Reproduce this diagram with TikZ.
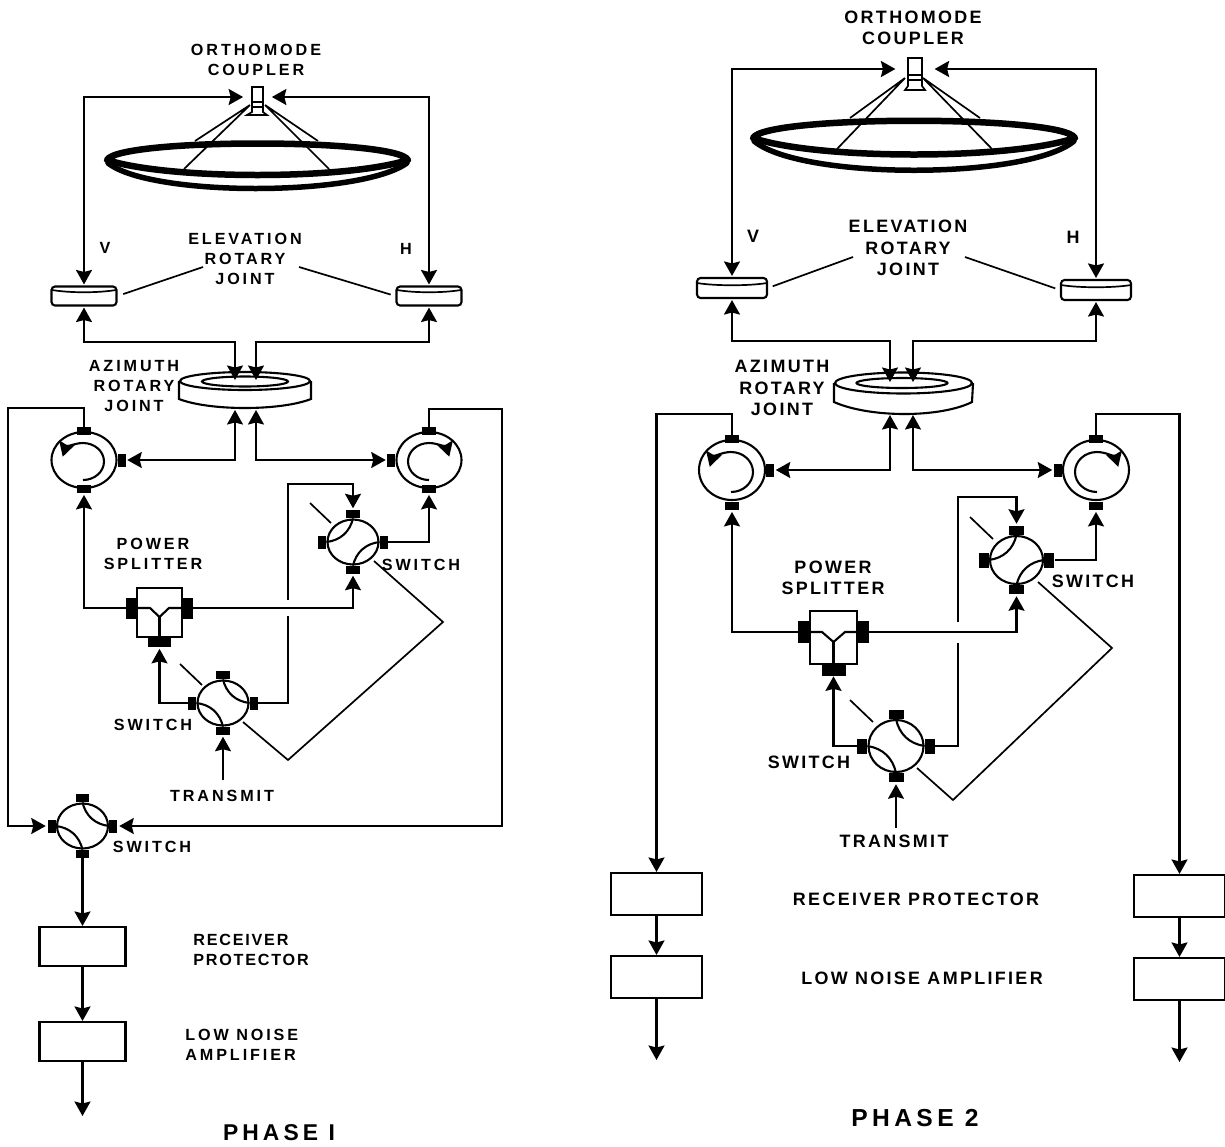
\documentclass[tikz,border=0pt]{standalone}
\usepackage{fontspec}
\usepackage{tikz}
\usetikzlibrary{arrows.meta,shapes,calc}
\newfontfamily\capsa[LetterSpace=18]{Liberation Sans}
\newfontfamily\capsb[LetterSpace=13]{Liberation Sans}
\newfontfamily\capsc[LetterSpace=11]{Liberation Sans}
\tikzstyle{labela}=[font=\capsa\fontsize{9.2}{11.4}\selectfont\bfseries, align=center, inner sep=0pt]
\tikzstyle{labelb}=[font=\capsb\fontsize{10.2}{12.2}\selectfont\bfseries, align=center, inner sep=0pt]
\tikzstyle{labelc}=[font=\capsc\fontsize{9.2}{11.4}\selectfont\bfseries, align=left, anchor=west, inner sep=0pt]
\tikzstyle{phaselabel}=[font=\capsa\fontsize{13}{15}\selectfont\bfseries, inner sep=0pt]
\tikzstyle{sigline}=[line width=.042cm]
\tikzstyle{sigarrow}=[sigline, ->, >={Stealth[length=.29cm,width=.32cm,inset=.04cm]}, shorten >=.03cm]
\tikzstyle{bothway}=[sigarrow, <->, shorten <=.02cm]
\tikzstyle{thinline}=[line width=.034cm]
\tikzstyle{rimline}=[line width=.13cm, line join=round]
\tikzstyle{bowlline}=[line width=.11cm, line cap=round]
\tikzstyle{horn}=[rectangle, draw, line width=.034cm, inner sep=0pt, minimum width=.22cm, minimum height=.4cm]
\tikzstyle{elevjoint}=[rectangle, draw, sigline, fill=white, rounded corners=2pt, inner sep=0pt, minimum width=1.3cm, minimum height=.38cm]
\tikzstyle{circulator}=[ellipse, draw, sigline, fill=white, inner sep=0pt, minimum width=1.3cm, minimum height=1.12cm]
\tikzstyle{switchbox}=[ellipse, draw, sigline, fill=white, inner sep=0pt, minimum width=1.02cm, minimum height=.9cm]
\tikzstyle{portwide}=[rectangle, fill=black, inner sep=0pt, minimum width=.28cm, minimum height=.16cm]
\tikzstyle{porttall}=[rectangle, fill=black, inner sep=0pt, minimum width=.16cm, minimum height=.26cm]
\tikzstyle{portwideb}=[portwide, minimum width=.3cm, minimum height=.18cm]
\tikzstyle{porttallb}=[porttall, minimum width=.2cm, minimum height=.3cm]
\tikzstyle{splitter}=[rectangle, draw, sigline, inner sep=0pt, minimum width=.9cm, minimum height=.98cm]
\tikzstyle{splitside}=[rectangle, fill=black, inner sep=0pt, minimum width=.22cm, minimum height=.42cm]
\tikzstyle{splitbase}=[rectangle, fill=black, inner sep=0pt, minimum width=.46cm, minimum height=.2cm]
\tikzstyle{rxbox}=[rectangle, draw, sigline, inner sep=0pt, minimum width=1.72cm, minimum height=.78cm]
\begin{document}
\begin{tikzpicture}[x=.02cm, y=-.02cm]
    \useasboundingbox (0,0) rectangle (1225,1147);

    % Phase 1: antenna
    \node[horn] (horna) at (257.5,97) {};
    \draw[thinline] (252,102) -- (263,102) (252,107) -- (252,112) -- (247,115) -- (267,115) -- (263,112) -- (263,107);
    \draw[thinline] (250,105) -- (195,141) (250,105) -- (184,169) (265,105) -- (318,141) (265,105) -- (329,169);
    \draw[rimline] (107,160) .. controls (118,138) and (397,138) .. (408,160) .. controls (345,180) and (170,180) .. cycle;
    \draw[bowlline] (108,163) .. controls (150,197) and (360,197) .. (407,163);

    \node[labela] (orthoa) at (256,59.5) {ORTHOMODE\\COUPLER};
    \node[labela] (elevlaba) at (245,259) {ELEVATION\\ROTARY\\JOINT};
    \node[labela] (azlaba) at (134,386) {AZIMUTH\\ROTARY\\JOINT};
    \node[labela] (vlaba) at (105,248) {V};
    \node[labela] (hlaba) at (406,249) {H};

    % Phase 1: rotary joints
    \node[elevjoint] (evVa) at (84,296) {};
    \node[elevjoint] (evHa) at (429,296) {};
    \draw[thinline] (52,290) .. controls (70,293) and (98,293) .. (116,290);
    \draw[thinline] (397,290) .. controls (415,293) and (443,293) .. (461,290);
    \coordinate (evlnVa) at (203,267);
    \coordinate (evlnHa) at (299,267);
    \draw[thinline, shorten <=.12cm] (evVa.east) -- (evlnVa);
    \draw[thinline, shorten <=.1cm] (evHa.west) -- (evlnHa);

    \node[ellipse, draw, sigline, fill=white, inner sep=0pt, minimum width=2.6cm, minimum height=.36cm] (aza) at (245,381) {};
    \node[ellipse, draw, sigline, inner sep=0pt, minimum width=1.72cm, minimum height=.2cm] (azina) at (245,381.5) {};
    \draw[sigline] (aza.west) -- ++(0,18) .. controls (210,411) and (280,411) .. (311,399) -- (aza.east);

    \draw[bothway, shorten >=.16cm] (evVa.north) |- (horna.west);
    \draw[bothway, shorten >=.16cm] (evHa.north) |- (horna.east);
    \coordinate (azVa) at (235,342);
    \coordinate (azHa) at (256,342);
    \coordinate (azVatop) at (235,380);
    \coordinate (azHatop) at (256,380);
    \coordinate (azVabot) at (235,410);
    \coordinate (azHabot) at (256,410);
    \draw[bothway, shorten >=0pt] (evVa.south) |- (azVa) -- (azVatop);
    \draw[bothway, shorten >=0pt] (evHa.south) |- (azHa) -- (azHatop);

    % Phase 1: circulators
    \node[circulator] (circVa) at (84,460) {};
    \node[circulator] (circHa) at (429,460) {};
    \node[portwide, anchor=center] (circVaN) at (circVa.north) {};
    \node[portwide, anchor=center] (circVaS) at (circVa.south) {};
    \node[porttall, anchor=west] (circVaE) at (circVa.east) {};
    \node[portwide, anchor=center] (circHaN) at (circHa.north) {};
    \node[portwide, anchor=center] (circHaS) at (circHa.south) {};
    \node[porttall, anchor=east] (circHaW) at (circHa.west) {};
    \draw[sigarrow, shorten >=0pt] (83,480) arc[start angle=-90, end angle=165, x radius=.42cm, y radius=.37cm];
    \draw[sigarrow, shorten >=0pt] (429,480) arc[start angle=-90, end angle=-345, x radius=.42cm, y radius=.37cm];
    \draw[bothway, shorten >=0pt] (circVaE.east) -| (azVabot);
    \draw[bothway, shorten >=0pt] (circHaW.west) -| (azHabot);

    % Phase 1: power splitter and switches
    \node[labela] (powerlaba) at (153,554) {POWER\\SPLITTER};
    \node[splitter] (splita) at (159.5,612.5) {};
    \node[splitside] (splitaW) at (131.5,608) {};
    \node[splitside] (splitaE) at (187.5,608) {};
    \node[splitbase] (splitaS) at (159.5,642) {};
    \draw[sigline] (splitaW.east) -- (150,608) -- (159.5,617) -- (169,608) -- (splitaE.west);
    \draw[sigline] (159.5,617) -- (splita.south);

    \node[switchbox] (swra) at (353,542) {};
    \node[portwide, anchor=south] (swraN) at (swra.north) {};
    \node[portwide, anchor=north] (swraS) at (swra.south) {};
    \node[porttall, anchor=east] (swraW) at (swra.west) {};
    \node[porttall, anchor=west] (swraE) at (swra.east) {};
    \draw[sigline] (swra.north) to[bend left=35] (swra.west);
    \draw[sigline] (swra.east) to[bend right=35] (swra.south);

    \node[switchbox] (swta) at (223,703) {};
    \node[portwide, anchor=south] (swtaN) at (swta.north) {};
    \node[portwide, anchor=north] (swtaS) at (swta.south) {};
    \node[porttall, anchor=east] (swtaW) at (swta.west) {};
    \node[porttall, anchor=west] (swtaE) at (swta.east) {};
    \draw[sigline] (swta.north) to[bend right=35] (swta.east);
    \draw[sigline] (swta.west) to[bend left=35] (swta.south);

    \node[switchbox] (swoa) at (82.5,826) {};
    \node[portwide, anchor=south] (swoaN) at (swoa.north) {};
    \node[portwide, anchor=north] (swoaS) at (swoa.south) {};
    \node[porttall, anchor=east] (swoaW) at (swoa.west) {};
    \node[porttall, anchor=west] (swoaE) at (swoa.east) {};
    \draw[sigline] (swoa.north) to[bend right=35] (swoa.east);
    \draw[sigline] (swoa.west) to[bend left=35] (swoa.south);

    \node[labela] (swlabra) at (421,565) {SWITCH};
    \node[labela] (swlabta) at (153,725) {SWITCH};
    \node[labela] (swlaboa) at (152,847) {SWITCH};
    \node[labela] (txlaba) at (222,796) {TRANSMIT};

    \coordinate (txa) at (223,780);
    \coordinate (gaplowa) at (288,616);
    \coordinate (gapupa) at (288,600);
    \coordinate (swrtopa) at (353,484);
    \coordinate (cornerVa) at (8,408);
    \coordinate (cornerHa) at (502,409);
    \draw[sigarrow] (txa) -- (swtaS.south);
    \draw[sigarrow] (swtaW.west) -| (splitaS.south);
    \draw[sigline] (swtaE.east) -| (gaplowa);
    \draw[sigarrow] (gapupa) |- (swrtopa) -- (swraN.north);
    \draw[sigarrow] (splitaE.east) -| (swraS.south);
    \draw[sigarrow] (splitaW.west) -| (circVaS.south);
    \draw[sigarrow] (swraE.east) -| (circHaS.south);
    \draw[sigarrow] (circVaN.north) |- (cornerVa) |- (swoaW.west);
    \draw[sigarrow] (circHaN.north) |- (cornerHa) |- (swoaE.east);

    % Phase 1: control links
    \coordinate (ctlaA) at (243,722);
    \coordinate (ctlaB) at (288,760);
    \coordinate (ctlaC) at (443,622);
    \coordinate (ctlaD) at (374,561);
    \draw[thinline] (ctlaA) -- (ctlaB) -- (ctlaC) -- (ctlaD);
    \coordinate (ticktaA) at (180,664);
    \coordinate (ticktaB) at (202,685);
    \coordinate (tickraA) at (310,503);
    \coordinate (tickraB) at (331,523);
    \draw[thinline] (ticktaA) -- (ticktaB);
    \draw[thinline] (tickraA) -- (tickraB);

    % Phase 1: receive chain
    \node[rxbox] (rxpa) at (82.5,946.5) {};
    \node[rxbox] (lnaa) at (82.5,1041.5) {};
    \coordinate (outa) at (82.5,1116);
    \draw[sigarrow, shorten >=0pt] (swoaS.south) -- (rxpa.north);
    \draw[sigarrow, shorten >=0pt] (rxpa.south) -- (lnaa.north);
    \draw[sigarrow, shorten >=0pt] (lnaa.south) -- (outa);
    \node[labelc] (rxlaba) at (193,950) {RECEIVER\\PROTECTOR};
    \node[labela, align=left, anchor=west] (lnalaba) at (185,1045) {LOW NOISE\\AMPLIFIER};
    \node[phaselabel] (phasea) at (279,1133) {PHASE I};

    % Phase 2: antenna
    \node[horn, minimum width=.27cm, minimum height=.44cm] (hornb) at (915,69) {};
    \draw[thinline] (908,75) -- (922,75) (908,80) -- (908,86) -- (905,90) -- (925,90) -- (922,86) -- (922,80);
    \draw[thinline] (905,78) -- (850,118) (905,78) -- (837,149) (923,78) -- (980,118) (923,78) -- (992,149);
    \draw[rimline] (753,138) .. controls (765,115) and (1063,115) .. (1075,138) .. controls (1010,160) and (818,160) .. cycle;
    \draw[bowlline] (754,141) .. controls (800,180) and (1028,180) .. (1074,141);

    \node[labelb] (orthob) at (913,28) {ORTHOMODE\\COUPLER};
    \node[labelb] (elevlabb) at (908,248) {ELEVATION\\ROTARY\\JOINT};
    \node[labelb] (azlabb) at (782,388) {AZIMUTH\\ROTARY\\JOINT};
    \node[labelb] (vlabb) at (753,236) {V};
    \node[labelb] (hlabb) at (1073,237) {H};

    % Phase 2: rotary joints
    \node[elevjoint, minimum width=1.4cm, minimum height=.4cm] (evVb) at (732,288) {};
    \node[elevjoint, minimum width=1.4cm, minimum height=.4cm] (evHb) at (1096,290) {};
    \draw[thinline] (697,283) .. controls (715,286) and (749,286) .. (767,283);
    \draw[thinline] (1061,285) .. controls (1079,288) and (1113,288) .. (1131,285);
    \coordinate (evlnVb) at (853,257);
    \coordinate (evlnHb) at (965,257);
    \draw[thinline, shorten <=.1cm] (evVb.east) -- (evlnVb);
    \draw[thinline, shorten <=.1cm] (evHb.west) -- (evlnHb);

    \node[ellipse, draw, sigline, fill=white, inner sep=0pt, minimum width=2.74cm, minimum height=.42cm] (azb) at (903.5,383) {};
    \node[ellipse, draw, sigline, inner sep=0pt, minimum width=1.82cm, minimum height=.2cm] (azinb) at (902,383) {};
    \draw[sigline] (azb.west) -- ++(0,19) .. controls (870,418) and (940,418) .. (972,402) -- (azb.east);

    \draw[bothway, shorten >=.24cm] (evVb.north) |- (hornb.west);
    \draw[bothway, shorten >=.24cm] (evHb.north) |- (hornb.east);
    \coordinate (azVb) at (890,341);
    \coordinate (azHb) at (913,341);
    \coordinate (azVbtop) at (890,382);
    \coordinate (azHbtop) at (913,382);
    \coordinate (azVbbot) at (890,415);
    \coordinate (azHbbot) at (913,415);
    \draw[bothway, shorten >=0pt] (evVb.south) |- (azVb) -- (azVbtop);
    \draw[bothway, shorten >=0pt] (evHb.south) |- (azHb) -- (azHbtop);

    % Phase 2: circulators
    \node[circulator, minimum width=1.32cm, minimum height=1.2cm] (circVb) at (732,470) {};
    \node[circulator, minimum width=1.32cm, minimum height=1.2cm] (circHb) at (1096,470) {};
    \node[portwide, anchor=center] (circVbN) at (circVb.north) {};
    \node[portwide, anchor=center] (circVbS) at ($(circVb.south)+(0,5)$) {};
    \node[porttall, anchor=west] (circVbE) at (circVb.east) {};
    \node[portwide, anchor=center] (circHbN) at (circHb.north) {};
    \node[portwide, anchor=center] (circHbS) at ($(circHb.south)+(0,5)$) {};
    \node[porttall, anchor=east] (circHbW) at (circHb.west) {};
    \draw[sigarrow, shorten >=0pt] (731,492) arc[start angle=-90, end angle=165, x radius=.44cm, y radius=.4cm];
    \draw[sigarrow, shorten >=0pt] (1097,492) arc[start angle=-90, end angle=-345, x radius=.44cm, y radius=.4cm];
    \draw[bothway, shorten >=0pt] (circVbE.east) -| (azVbbot);
    \draw[bothway, shorten >=0pt] (circHbW.west) -| (azHbbot);

    % Phase 2: power splitter and switches
    \node[labelb] (powerlabb) at (833,578) {POWER\\SPLITTER};
    \node[splitter, minimum width=.94cm, minimum height=1.06cm] (splitb) at (833.5,637.5) {};
    \node[splitside, minimum width=.24cm, minimum height=.44cm] (splitbW) at (804,632) {};
    \node[splitside, minimum width=.24cm, minimum height=.44cm] (splitbE) at (863,632) {};
    \node[splitbase, minimum width=.48cm, minimum height=.24cm] (splitbS) at (833.5,670) {};
    \draw[sigline] (splitbW.east) -- (822,632) -- (833.5,642) -- (845,632) -- (splitbE.west);
    \draw[sigline] (833.5,642) -- (splitb.south);

    \node[switchbox, minimum width=1.06cm, minimum height=.96cm] (swrb) at (1016.5,560) {};
    \node[portwideb, anchor=south] (swrbN) at (swrb.north) {};
    \node[portwideb, anchor=north] (swrbS) at (swrb.south) {};
    \node[porttallb, anchor=east] (swrbW) at (swrb.west) {};
    \node[porttallb, anchor=west] (swrbE) at (swrb.east) {};
    \draw[sigline] (swrb.north) to[bend left=35] (swrb.west);
    \draw[sigline] (swrb.east) to[bend right=35] (swrb.south);

    \node[switchbox, minimum width=1.1cm, minimum height=1.04cm] (swtb) at (896,746) {};
    \node[portwideb, anchor=south] (swtbN) at (swtb.north) {};
    \node[portwideb, anchor=north] (swtbS) at (swtb.south) {};
    \node[porttallb, anchor=east] (swtbW) at (swtb.west) {};
    \node[porttallb, anchor=west] (swtbE) at (swtb.east) {};
    \draw[sigline] (swtb.north) to[bend right=35] (swtb.east);
    \draw[sigline] (swtb.west) to[bend left=35] (swtb.south);

    \node[labelb] (swlabrb) at (1093,581) {SWITCH};
    \node[labelb] (swlabtb) at (809,762) {SWITCH};
    \node[labelb] (txlabb) at (894,841) {TRANSMIT};

    \coordinate (txb) at (896,828);
    \coordinate (gaplowb) at (958,643);
    \coordinate (gapupb) at (958,622);
    \coordinate (swrtopb) at (1016.5,497);
    \coordinate (cornerVb) at (656.5,414);
    \coordinate (cornerHb) at (1179.5,414);
    \draw[sigarrow] (txb) -- (swtbS.south);
    \draw[sigarrow, shorten >=0pt] (swtbW.west) -| (splitbS.south);
    \draw[sigline] (swtbE.east) -| (gaplowb);
    \draw[sigarrow] (gapupb) |- (swrtopb) -- (swrbN.north);
    \draw[sigarrow] (splitbE.east) -| (swrbS.south);
    \draw[sigarrow] (splitbW.west) -| (circVbS.south);
    \draw[sigarrow] (swrbE.east) -| (circHbS.south);

    % Phase 2: control links
    \coordinate (ctlbA) at (917,768);
    \coordinate (ctlbB) at (953,800);
    \coordinate (ctlbC) at (1112,648);
    \coordinate (ctlbD) at (1038,582);
    \draw[thinline] (ctlbA) -- (ctlbB) -- (ctlbC) -- (ctlbD);
    \coordinate (ticktbA) at (850,700);
    \coordinate (ticktbB) at (873,722);
    \coordinate (tickrbA) at (970,517);
    \coordinate (tickrbB) at (993,539);
    \draw[thinline] (ticktbA) -- (ticktbB);
    \draw[thinline] (tickrbA) -- (tickrbB);

    % Phase 2: receive chains
    \node[rxbox, minimum width=1.82cm, minimum height=.84cm] (rxpVb) at (656.5,894) {};
    \node[rxbox, minimum width=1.82cm, minimum height=.84cm] (lnaVb) at (656.5,977) {};
    \node[rxbox, minimum width=1.82cm, minimum height=.84cm] (rxpHb) at (1179.5,896) {};
    \node[rxbox, minimum width=1.82cm, minimum height=.84cm] (lnaHb) at (1179.5,979) {};
    \coordinate (outVb) at (656.5,1060);
    \coordinate (outHb) at (1179.5,1062);
    \draw[sigarrow, shorten >=0pt] (circVbN.north) |- (cornerVb) -- (rxpVb.north);
    \draw[sigarrow, shorten >=0pt] (circHbN.north) |- (cornerHb) -- (rxpHb.north);
    \draw[sigarrow, shorten >=0pt] (rxpVb.south) -- (lnaVb.north);
    \draw[sigarrow, shorten >=0pt] (rxpHb.south) -- (lnaHb.north);
    \draw[sigarrow, shorten >=0pt] (lnaVb.south) -- (outVb);
    \draw[sigarrow, shorten >=0pt] (lnaHb.south) -- (outHb);
    \node[labelb] (rxlabb) at (916,899) {RECEIVER PROTECTOR};
    \node[labelb] (lnalabb) at (922,978) {LOW NOISE AMPLIFIER};
    \node[phaselabel, font=\capsa\fontsize{14}{16}\selectfont\bfseries] (phaseb) at (915,1118) {PHASE 2};
\end{tikzpicture}
\end{document}
